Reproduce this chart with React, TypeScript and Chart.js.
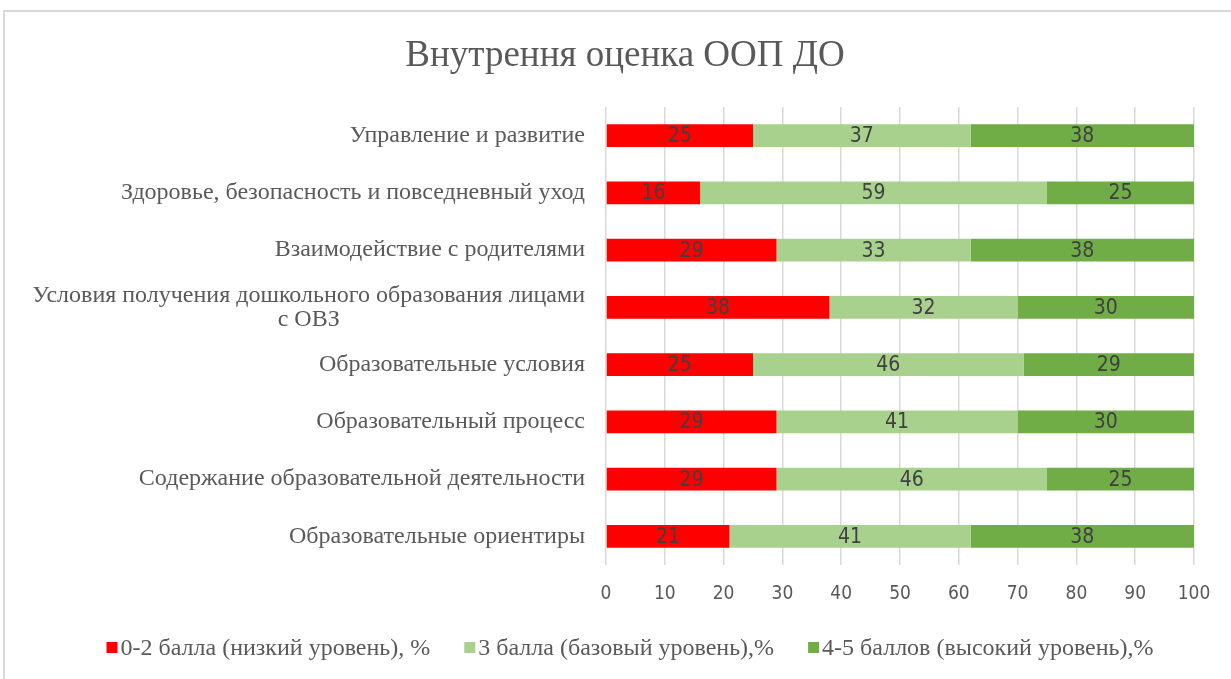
import React, { useEffect, useRef } from "react";
import { Chart, registerables } from "chart.js";

Chart.register(...registerables);

const titleText = "Внутрення оценка ООП ДО";
const categories: (string | string[])[] = [
  "Управление и развитие",
  "Здоровье, безопасность и повседневный уход",
  "Взаимодействие с родителями",
  ["Условия получения дошкольного образования лицами", "с ОВЗ"],
  "Образовательные условия",
  "Образовательный процесс",
  "Содержание образовательной деятельности",
  "Образовательные ориентиры",
];
const seriesNames = [
  "0-2 балла (низкий уровень), %",
  "3 балла (базовый уровень),%",
  "4-5 баллов (высокий уровень),%",
];
const lowValues = [25, 16, 29, 38, 25, 29, 29, 21];
const baseValues = [37, 59, 33, 32, 46, 41, 46, 41];
const highValues = [38, 25, 38, 30, 29, 30, 25, 38];
const seriesColors = ["#FF0000", "#A9D18E", "#70AD47"];
const xTicks = [0, 10, 20, 30, 40, 50, 60, 70, 80, 90, 100];

const serif = "'Liberation Serif', 'Times New Roman', serif";
const sans = "'Liberation Sans Narrow', 'Arial Narrow', 'DejaVu Sans Condensed', Lato, sans-serif";

const W = 1231;
const H = 679;

const labelsPlugin = {
  id: "valueLabels",
  afterDatasetsDraw(chart: any) {
    const ctx = chart.ctx;
    ctx.save();
    ctx.font = `21px ${sans}`;
    ctx.fillStyle = "#404040";
    ctx.textAlign = "center";
    ctx.textBaseline = "middle";
    chart.data.datasets.forEach((ds: any, i: number) => {
      const meta = chart.getDatasetMeta(i);
      meta.data.forEach((el: any, j: number) => {
        const p = el.getProps(["x", "y", "base"], true);
        ctx.fillText(String(ds.data[j]), (p.x + p.base) / 2, p.y + 1);
      });
    });
    ctx.restore();
  },
};

const decorPlugin = {
  id: "decor",
  afterDraw(chart: any) {
    const ctx = chart.ctx;
    ctx.save();
    // title
    ctx.font = `37px ${serif}`;
    ctx.fillStyle = "#595959";
    ctx.textAlign = "center";
    ctx.textBaseline = "middle";
    ctx.fillText(titleText, 625, 56);

    // category labels (multi-line labels are centred line by line)
    ctx.font = `24px ${serif}`;
    const yScale = chart.scales.y;
    const right = chart.chartArea.left - 21;
    const lh = 24;
    (chart.data.labels as any[]).forEach((lab: any, i: number) => {
      const lines: string[] = Array.isArray(lab) ? lab : [lab];
      const cy = yScale.getPixelForValue(i);
      const blockW = Math.max(...lines.map((l) => ctx.measureText(l).width));
      lines.forEach((line, k) => {
        const ly = cy + (k - (lines.length - 1) / 2) * lh;
        if (lines.length === 1) {
          ctx.textAlign = "right";
          ctx.fillText(line, right, ly);
        } else {
          ctx.textAlign = "center";
          ctx.fillText(line, right - blockW / 2, ly);
        }
      });
    });

    // legend
    ctx.font = `24px ${serif}`;
    ctx.textAlign = "left";
    const box = 11;
    const gapText = 3;
    const gapItem = 34;
    const widths = chart.data.datasets.map((d: any) => ctx.measureText(d.label).width);
    const total =
      widths.reduce((a: number, b: number) => a + b + box + gapText, 0) +
      gapItem * (widths.length - 1);
    let x = 630 - total / 2;
    const y = 649;
    chart.data.datasets.forEach((d: any, i: number) => {
      ctx.fillStyle = d.backgroundColor;
      ctx.fillRect(x, y - 7, box, 11);
      x += box + gapText;
      ctx.fillStyle = "#595959";
      ctx.fillText(d.label, x, y);
      x += widths[i] + gapItem;
    });
    ctx.restore();
  },
};

export default function App() {
  const ref = useRef<HTMLCanvasElement | null>(null);
  useEffect(() => {
    if (!ref.current) return;
    const values = [lowValues, baseValues, highValues];
    const chart = new Chart(ref.current, {
      type: "bar",
      data: {
        labels: categories as any,
        datasets: seriesNames.map((name, i) => ({
          label: name,
          data: values[i],
          backgroundColor: seriesColors[i],
          borderWidth: 0,
          barPercentage: 0.4,
          categoryPercentage: 1,
        })),
      },
      options: {
        indexAxis: "y",
        responsive: false,
        animation: false,
        layout: { padding: { left: 0, right: W - 1194, top: 107, bottom: H - 565 - 50 } },
        plugins: {
          legend: { display: false },
          title: { display: false },
          tooltip: { enabled: false },
        },
        scales: {
          x: {
            stacked: true,
            min: 0,
            max: 100,
            afterBuildTicks: (scale: any) => {
              scale.ticks = xTicks.map((v) => ({ value: v }));
            },
            afterFit: (scale: any) => {
              scale.height = 50;
            },
            grid: { color: "#d9d9d9", lineWidth: 1.5, drawTicks: false },
            border: { display: false },
            ticks: {
              padding: 18,
              color: "#595959",
              font: { family: sans, size: 19 },
            },
          },
          y: {
            stacked: true,
            afterFit: (scale: any) => {
              scale.width = 606;
            },
            grid: { display: false, drawTicks: false },
            border: { display: false },
            ticks: { display: false },
          },
        },
      } as any,
      plugins: [labelsPlugin, decorPlugin],
    });
    return () => chart.destroy();
  }, []);

  return (
    <div
      style={{
        position: "fixed",
        left: 0,
        top: 0,
        width: W,
        height: H,
        overflow: "hidden",
        background: "#ffffff",
      }}
    >
      <canvas
        ref={ref}
        width={W}
        height={H}
        style={{ position: "absolute", left: 0, top: 0, width: W, height: H }}
      />
      <div
        style={{
          position: "absolute",
          left: 3,
          top: 10,
          width: 1300,
          height: 760,
          border: "2px solid #d9d9d9",
          boxSizing: "border-box",
          pointerEvents: "none",
        }}
      />
    </div>
  );
}
